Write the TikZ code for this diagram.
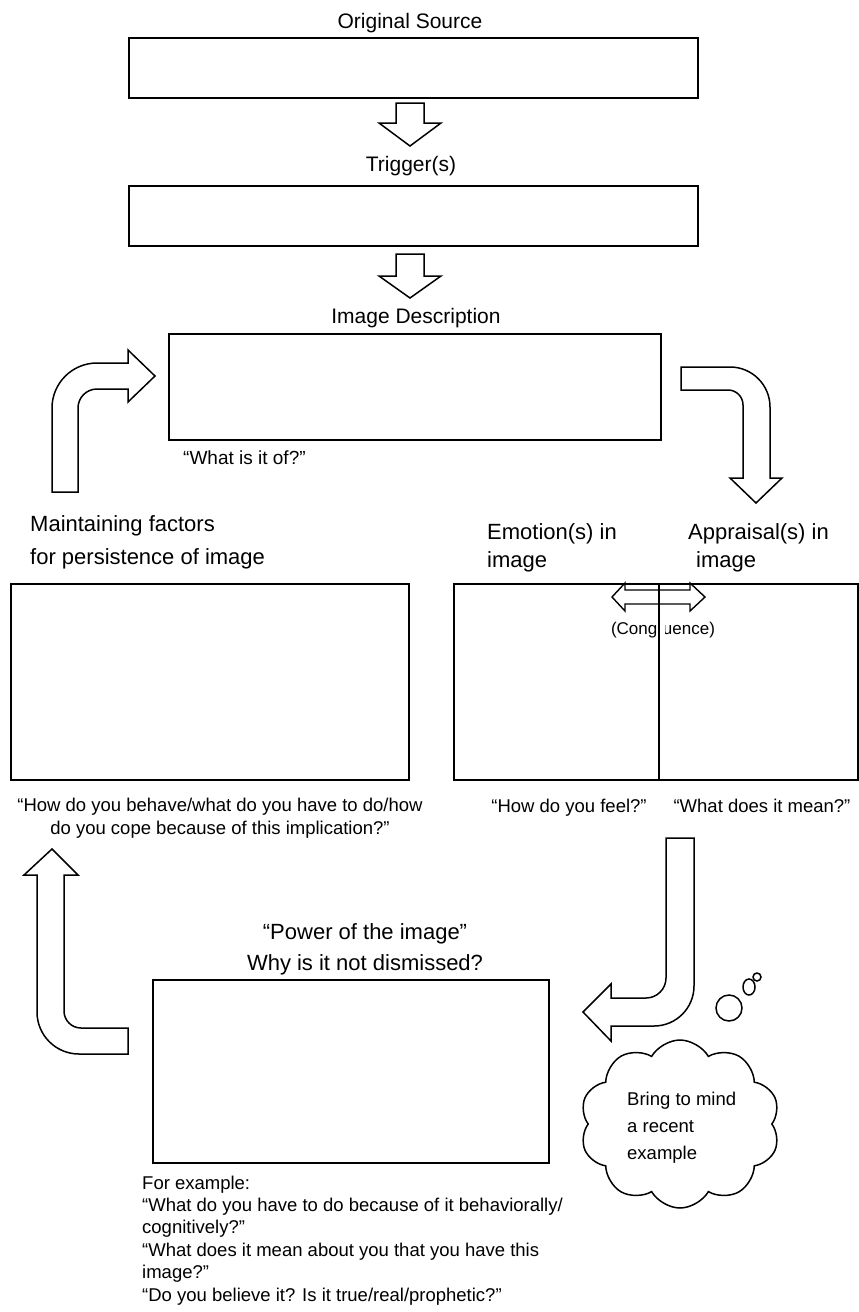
\documentclass[tikz,border=0pt]{standalone}
\usepackage{fontspec}
\setmainfont{Liberation Sans}
\usetikzlibrary{shapes.symbols}
\begin{document}
\begin{tikzpicture}[x=1pt,y=-1pt,
  box/.style={draw, line width=1.8pt, inner sep=0pt, anchor=north west},
  barrow/.style={draw, line width=1.5pt, line join=miter, miter limit=10},
  title/.style={font=\fontsize{21}{25}\selectfont, inner sep=0pt, anchor=base},
  big/.style={font=\fontsize{22}{33}\selectfont, inner sep=0pt, align=left, anchor=base west},
  qtext/.style={font=\fontsize{18.5}{22.4}\selectfont, inner sep=0pt},
  bubble/.style={draw, line width=1.5pt}
]
\useasboundingbox[fill=white] (0,0) rectangle (859,1312);

% boxes
\node[box, minimum width=569, minimum height=60] (src) at (128,37) {};
\node[box, minimum width=569, minimum height=60] (trig) at (128,185) {};
\node[box, minimum width=492, minimum height=106] (desc) at (168,333) {};
\node[box, minimum width=398, minimum height=196] (maint) at (10,583) {};
\node[box, minimum width=404, minimum height=196] (emo) at (453,583) {};
\node[box, minimum width=396, minimum height=183] (power) at (152,979) {};

% titles (multi-line nodes: base = baseline of last line)
\node[title] (tsrc) at (410,28) {Original Source};
\node[title] (ttrig) at (411,171) {Trigger(s)};
\node[title] (tdesc) at (416,323) {Image Description};
\node[qtext, anchor=base west, font=\fontsize{19}{22}\selectfont] (qdesc) at (183,464) {“What is it of?”};
\node[big] (tmaint) at (30,564) {Maintaining factors\\for persistence of image};
\node[big, font=\fontsize{22}{28}\selectfont] (temo) at (487,567) {Emotion(s) in\\image};
\node[big, font=\fontsize{22}{28}\selectfont] (tapp) at (688,567) {Appraisal(s) in\\\hspace*{8pt}image};

% congruence
\node[qtext, anchor=base, font=\fontsize{17}{20}\selectfont] (cong) at (663,634) {(Congruence)};
\fill[white] (657,618) rectangle (665,637);
\draw[line width=1.6pt] (659,583) -- (659,779);
\draw[barrow, line width=1.4pt] (612,597) -- (625,583) -- (625,590) -- (690,590) -- (690,583) -- (705,597) -- (690,611) -- (690,604) -- (625,604) -- (625,611) -- cycle;

% questions
\node[qtext, align=center, anchor=base] (qmaint) at (220,834) {“How do you behave/what do you have to do/how\\do you cope because of this implication?”};
\node[qtext, anchor=base] (qemo) at (569,812) {“How do you feel?”};
\node[qtext, anchor=base] (qapp) at (762,812) {“What does it mean?”};
\node[big, align=center, anchor=base, font=\fontsize{22}{31}\selectfont] (tpower) at (365,970) {“Power of the image”\\Why is it not dismissed?};
\node[qtext, align=left, anchor=base west] (qpower) at (142,1301) {For example:\\“What do you have to do because of it behaviorally/\\cognitively?”\\“What does it mean about you that you have this\\image?”\\“Do you believe it? Is it true/real/prophetic?”};

% block arrows
\draw[barrow] (396,103) -- (424,103) -- (424,123) -- (441,123) -- (410,146) -- (379,123) -- (396,123) -- cycle;
\draw[barrow] (396,254) -- (424,254) -- (424,276) -- (441,276) -- (410,298) -- (379,276) -- (396,276) -- cycle;
\draw[barrow] (52,492) -- (52,408) .. controls (52,383.2) and (72.2,363) .. (97,363) -- (128,363) -- (128,350) -- (155,376) -- (128,402) -- (128,389) -- (97,389) .. controls (86.5,389) and (78,397.5) .. (78,408) -- (78,492) -- cycle;
\draw[barrow] (681,367) -- (730,367) .. controls (752.1,367) and (770,384.9) .. (770,407) -- (770,478) -- (782,478) -- (756,503) -- (730,478) -- (743,478) -- (743,405) .. controls (743,396.7) and (736.3,390) .. (728,390) -- (681,390) -- cycle;
\draw[barrow] (666,838) -- (694,838) -- (694,986) .. controls (694,1008.1) and (676.1,1026) .. (654,1026) -- (611,1026) -- (611,1041) -- (583,1012) -- (611,984) -- (611,998) -- (646,998) .. controls (657,998) and (666,989) .. (666,978) -- cycle;
\draw[barrow] (52,849) -- (78,875) -- (64,875) -- (64,1011) .. controls (64,1020.4) and (71.6,1028) .. (81,1028) -- (128,1028) -- (128,1054) -- (79,1054) .. controls (55.8,1054) and (37,1035.2) .. (37,1012) -- (37,875) -- (24,875) -- cycle;

% thought cloud
\node[cloud, draw, line width=1.5pt, cloud puffs=10, cloud puff arc=120, minimum width=200, minimum height=168] (cloud) at (680,1124) {};
\node[qtext, align=left, anchor=base west, font=\fontsize{18.5}{27}\selectfont] (tcloud) at (627,1159) {Bring to mind\\a recent\\example};
\draw[bubble] (729,1008) circle (13);
\draw[bubble] (749,987) ellipse (6 and 8);
\draw[bubble] (757,977) circle (4);
\end{tikzpicture}
\end{document}
